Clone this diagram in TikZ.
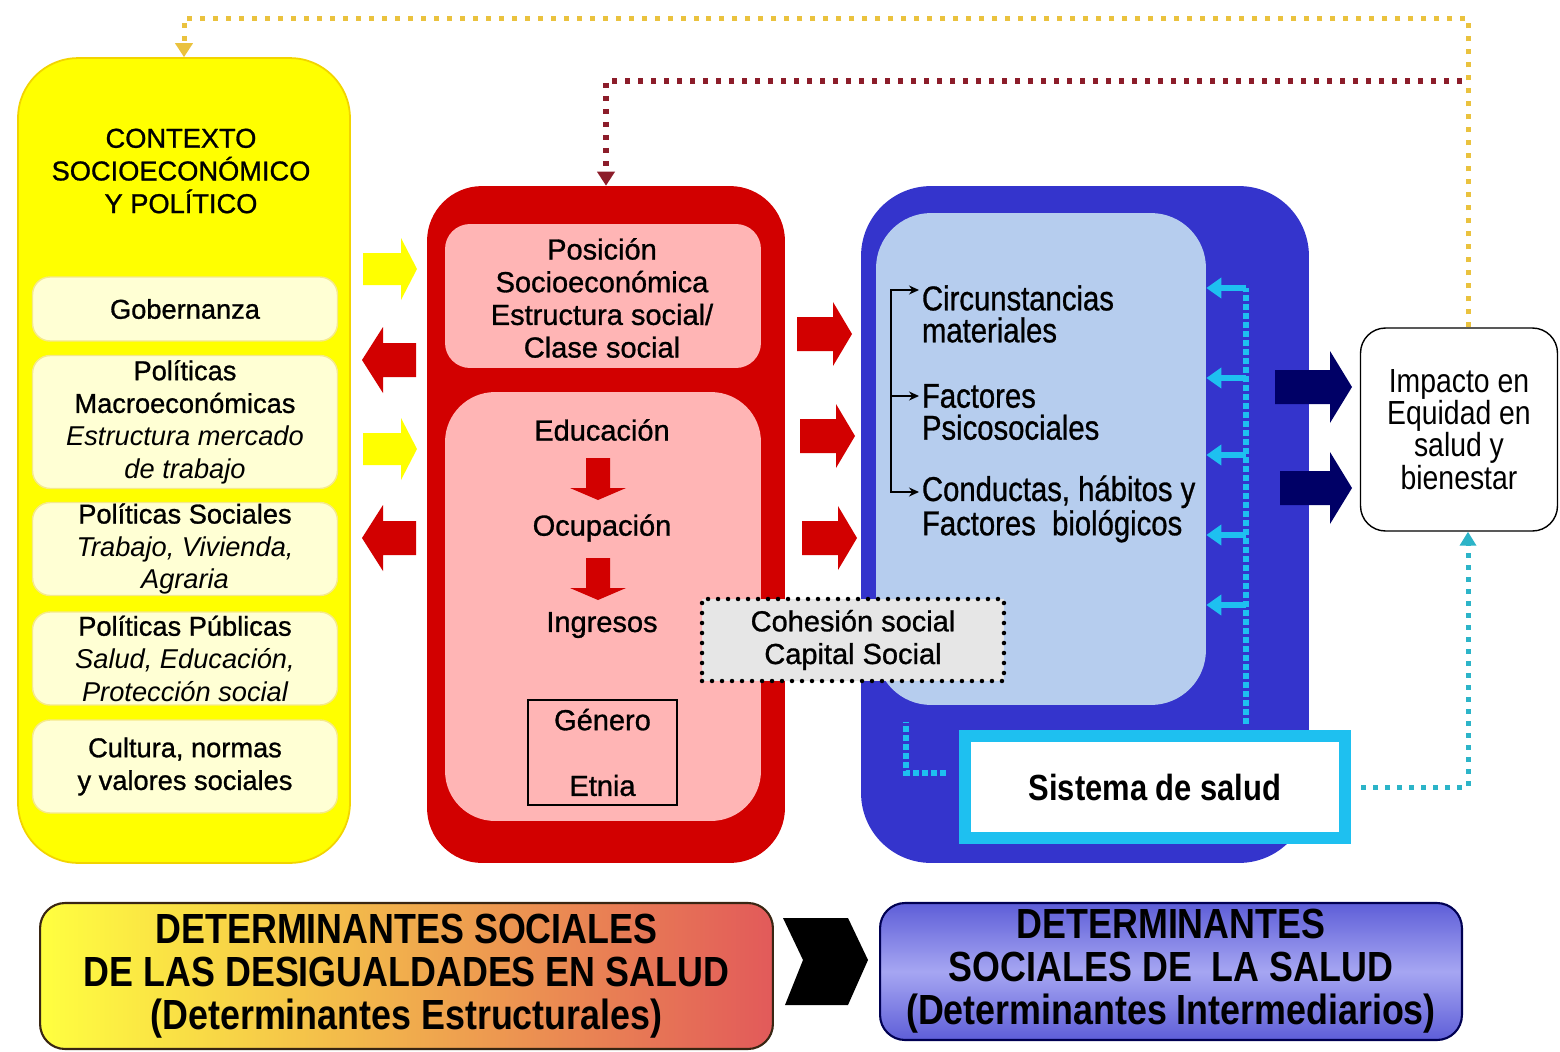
\documentclass[tikz,border=0pt]{standalone}
\usepackage{fontspec}
\setmainfont{Liberation Sans}
\newfontfamily\medfont[FakeBold=1]{Liberation Sans}
\newfontfamily\narrowfont[FakeStretch=0.85]{Liberation Sans}
\newfontfamily\narrowmed[FakeStretch=0.85,FakeBold=0.8]{Liberation Sans}
\usetikzlibrary{arrows.meta}

\definecolor{ctxyellow}{HTML}{FFFF00}
\definecolor{ctxedge}{HTML}{F2D400}
\definecolor{arrowedge}{HTML}{E8DC30}
\definecolor{ctxcream}{HTML}{FFFFD4}
\definecolor{creamedge}{HTML}{F5E98A}
\definecolor{strred}{HTML}{D20000}
\definecolor{strpink}{HTML}{FFB5B5}
\definecolor{intblue}{HTML}{3434CC}
\definecolor{intlight}{HTML}{B6CDEE}
\definecolor{syscyan}{HTML}{1EC0F0}
\definecolor{systeal}{HTML}{2CB4C8}
\definecolor{impnavy}{HTML}{000066}
\definecolor{fbred}{HTML}{8C1D2A}
\definecolor{fbgold}{HTML}{EAC23E}
\definecolor{cohgrey}{HTML}{E6E6E6}
\definecolor{banyellow}{HTML}{FFFF40}
\definecolor{banred}{HTML}{E25A5A}
\definecolor{banblue}{HTML}{5E5ED8}
\definecolor{banlight}{HTML}{A6A6F2}

\newcommand{\ctxsize}{\medfont\fontsize{15.5pt}{18.6pt}\selectfont}
\newcommand{\strsize}{\medfont\fontsize{16.5pt}{18.6pt}\selectfont}
\newcommand{\intsize}{\narrowmed\fontsize{19.6pt}{18.2pt}\selectfont}
\newcommand{\impsize}{\narrowfont\fontsize{19pt}{18.4pt}\selectfont}
\newcommand{\bansize}{\narrowfont\bfseries\fontsize{24pt}{24.5pt}\selectfont}
\newcommand{\lightit}[1]{{\rmfamily\itshape #1}}

\tikzset{
  ctxbox/.style={draw=creamedge, fill=ctxcream, line width=0.8pt, rounded corners=0.35cm,
    minimum width=6.1cm, align=center, font=\ctxsize, inner sep=0pt},
  strtxt/.style={align=center, font=\strsize, inner sep=1pt},
  inttxt/.style={align=left, font=\intsize, anchor=west, inner sep=1.5pt},
  brk/.style={draw=black, line width=0.8pt},
  golddots/.style={draw=fbgold, line width=0.1cm, dash pattern=on 0.1cm off 0.16cm},
  reddots/.style={draw=fbred, line width=0.11cm, dash pattern=on 0.11cm off 0.15cm},
  cyandots/.style={draw=syscyan, line width=0.12cm, dash pattern=on 0.12cm off 0.06cm},
  tealdots/.style={draw=systeal, line width=0.1cm, dash pattern=on 0.1cm off 0.14cm},
  cyanarrow/.style={draw=syscyan, line width=0.12cm, -{Triangle[length=0.3cm,width=0.4cm]}},
  pics/fatarrow/.style n args={5}{code={
    \fill[#5] (0,-#3) -- (#1-#2,-#3) -- (#1-#2,-#4) -- (#1,0) -- (#1-#2,#4) -- (#1-#2,#3) -- (0,#3) -- cycle;
  }},
}

\begin{document}
\begin{tikzpicture}[x=0.02cm,y=-0.02cm]
\useasboundingbox (0,0) rectangle (1560,1052);
%big boxes
\node[fill=ctxyellow, draw=ctxedge, line width=1pt, rounded corners=1.2cm, minimum width=6.64cm, minimum height=16.1cm] (ctx) at (184,460.5) {};
\node[fill=strred, rounded corners=1.1cm, minimum width=7.16cm, minimum height=13.54cm] (str) at (606,524.5) {};
\node[fill=intblue, rounded corners=1.4cm, minimum width=8.96cm, minimum height=13.54cm] (int) at (1085,524.5) {};
\node[fill=strpink, rounded corners=0.5cm, minimum width=6.32cm, minimum height=2.88cm] (pstop) at (603,296) {};
\node[fill=strpink, rounded corners=1cm, minimum width=6.32cm, minimum height=8.58cm] (psbot) at (603,606.5) {};
\node[fill=intlight, rounded corners=1.1cm, minimum width=6.6cm, minimum height=9.84cm] (inner) at (1041,459) {};
%context column
\node[align=center, font=\ctxsize] (ctxtitle) at (181,171) {CONTEXTO\\SOCIOECONÓMICO\\Y POLÍTICO};
\node[ctxbox, minimum height=1.28cm] (gob) at (185,309) {Gobernanza};
\node[ctxbox, minimum height=2.66cm] (macro) at (185,422) {Políticas\\Macroeconómicas\\\lightit{Estructura mercado}\\\lightit{de trabajo}};
\node[ctxbox, minimum height=1.86cm] (soc) at (185,549) {Políticas Sociales\\\lightit{Trabajo, Vivienda,}\\\lightit{Agraria}};
\node[ctxbox, minimum height=1.86cm] (pub) at (185,658.5) {Políticas Públicas\\\lightit{Salud, Educación,}\\\lightit{Protección social}};
\node[ctxbox, minimum height=1.86cm] (cult) at (185,766.5) {Cultura, normas\\y valores sociales};
%structural column
\node[strtxt] (posic) at (602,298) {Posición\\Socioeconómica\\Estructura social/\\Clase social};
\node[strtxt] (edu) at (602,430) {Educación};
\node[strtxt] (ocu) at (602,528) {Ocupación};
\node[strtxt] (ing) at (602,625) {Ingresos};
\node[draw=black, line width=0.8pt, minimum width=2.98cm, minimum height=2.1cm, align=center, font=\strsize, inner sep=0pt] (gen) at (602.5,752.5) {Género\\[0.66cm]Etnia};
\pic[rotate=-90] at (598,458) {fatarrow={42}{12}{12}{28}{strred}};
\pic[rotate=-90] at (598,558) {fatarrow={42}{12}{12}{28}{strred}};
%fat arrows between columns
\pic at (363,269) {fatarrow={54}{16}{16}{31}{ctxyellow}};
\pic at (363,449) {fatarrow={54}{16}{16}{31}{ctxyellow}};
\pic[rotate=180] at (416,360) {fatarrow={54}{21}{17}{33}{strred}};
\pic[rotate=180] at (416,538) {fatarrow={54}{21}{17}{33}{strred}};
\pic at (797,334) {fatarrow={55}{19}{17}{32}{strred}};
\pic at (800,436) {fatarrow={55}{19}{17}{32}{strred}};
\pic at (802,538) {fatarrow={55}{19}{17}{32}{strred}};
\pic at (1275,387) {fatarrow={77}{22}{17}{36}{impnavy}};
\pic at (1280,488) {fatarrow={72}{22}{17}{36}{impnavy}};
%intermediary column
\node[inttxt] (circ) at (919,314) {Circunstancias\\materiales};
\node[inttxt] (psico) at (919,412) {Factores\\Psicosociales};
\node[inttxt] (cond) at (919,509) {Conductas, hábitos y\\Factores~ biológicos};
\draw[brk, {Stealth[length=0.2cm,width=0.18cm]}-{Stealth[length=0.2cm,width=0.18cm]}] (circ.west |- 0,290) -| (891,492) -- (cond.west |- 0,492);
\draw[brk, -{Stealth[length=0.2cm,width=0.18cm]}] (891,396) -- (psico.west |- 0,396);
\node[draw=black, fill=cohgrey, line width=0.09cm, dash pattern=on 0pt off 0.2cm, line cap=round, minimum width=6.04cm, minimum height=1.64cm, align=center, font=\strsize] (coh) at (853,640) {Cohesión social\\Capital Social};
\node[draw=syscyan, line width=0.24cm, fill=white, minimum width=7.62cm, minimum height=2.04cm, font=\narrowfont\bfseries\fontsize{20.7pt}{22pt}\selectfont] (sys) at (1155,787) {Sistema de salud};
\node[draw=black, line width=0.8pt, rounded corners=0.5cm, fill=white, minimum width=3.94cm, minimum height=4.06cm, align=center, font=\impsize] (imp) at (1459,429.5) {Impacto en\\Equidad en\\salud y\\bienestar};
%health system feedback
\coordinate (cytop) at (1246,288);
\draw[cyandots] ([yshift=0.12cm]sys.north -| cytop) -- (cytop);
\draw[cyanarrow] (cytop) -- (inner.east |- cytop);
\foreach \y in {378,455,535,605}
  \draw[cyanarrow] (cytop |- 0,\y) -- (inner.east |- 0,\y);
\coordinate (cyl) at (906,722);
\draw[cyandots, shorten <=0.25cm] ([yshift=0.28cm]sys.west) -| (cyl);
%feedback loops
\coordinate (goldtop) at (1468,18);
\coordinate (redend) at (1462,81);
\draw[tealdots, shorten <=0.2cm, -{Triangle[length=0.28cm,width=0.32cm]}] (sys.east) -| (imp.south -| goldtop);
\draw[golddots, -{Triangle[length=0.28cm,width=0.34cm]}] (imp.north -| goldtop) -- (goldtop) -| (ctx.north);
\draw[reddots, -{Triangle[length=0.28cm,width=0.34cm]}] (redend) -| (str.north);
%bottom banners
\node[draw=black!70!brown, line width=1.2pt, rounded corners=0.5cm, left color=banyellow, right color=banred, minimum width=14.66cm, minimum height=2.92cm, align=center, font=\bansize] (banstr) at (406.5,976) {DETERMINANTES SOCIALES\\DE LAS DESIGUALDADES EN SALUD\\(Determinantes Estructurales)};
\node[draw=impnavy!80!black, line width=1.2pt, rounded corners=0.5cm, top color=banblue, bottom color=banblue, middle color=banlight, minimum width=11.64cm, minimum height=2.74cm, align=center, font=\bansize] (banint) at (1171,971.5) {DETERMINANTES\\SOCIALES DE~ LA SALUD\\(Determinantes Intermediarios)};
\fill[black] (783,918) -- (848,918) -- (868,960) -- (848,1005) -- (785,1005) -- (803,960) -- cycle;
\end{tikzpicture}
\end{document}
